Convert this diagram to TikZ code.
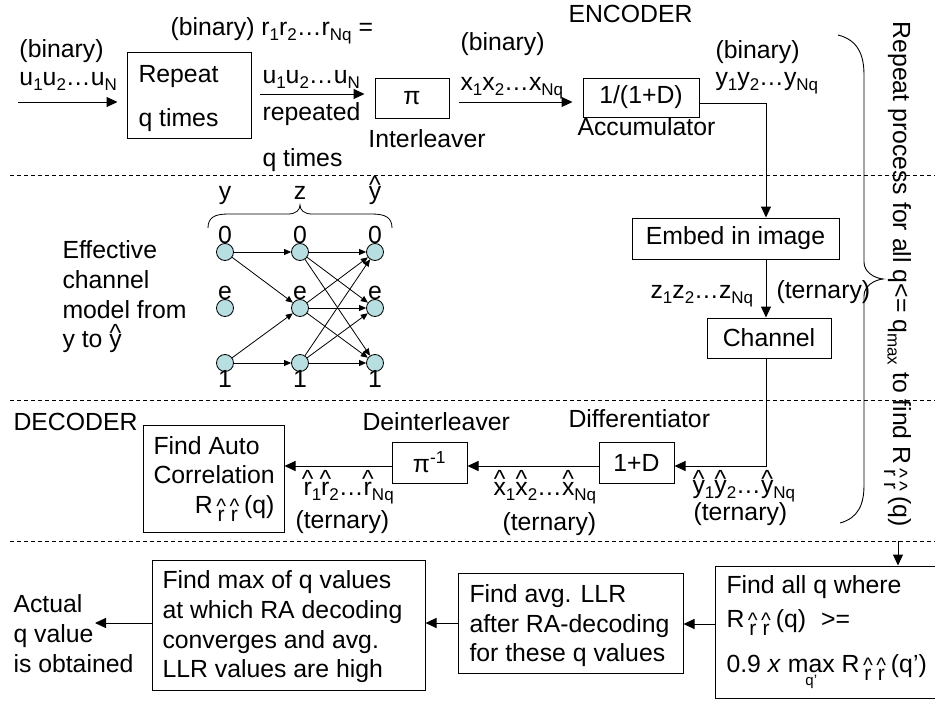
\documentclass[tikz,border=0pt]{standalone}
\usepackage{fontspec}
\setmainfont{Liberation Sans}
\usetikzlibrary{arrows.meta}
\definecolor{nodefill}{RGB}{183,222,224}
% subscript shorthand: smaller and dropped below the baseline
\newcommand\sbs[1]{\raisebox{-0.22em}{\fontsize{17}{17}\selectfont #1}}
% letter with a caret set above it
\newcommand\hatl[2][0.28em]{{\ooalign{#2\cr\hidewidth\raisebox{#1}{\textasciicircum}\hidewidth\cr}}}
% the pair of hatted r's written below R
\newcommand\rrsub{\raisebox{-0.36em}{\fontsize{21}{21}\selectfont\hatl[0.42em]{r}\hspace{0.3em}\hatl[0.42em]{r}}}
% max with q' underneath
\newcommand\maxq{{\ooalign{max\cr\hidewidth\raisebox{-0.55em}{\fontsize{15}{15}\selectfont q’}\hidewidth\cr}}}
\begin{document}
\begin{tikzpicture}[x=1pt,y=-1pt,
  font=\fontsize{24.8}{30}\selectfont,
  line width=1pt,
  >={Triangle[length=11pt,width=10pt]},
  box/.style={draw, rectangle, inner sep=0pt},
  txt/.style={inner sep=0pt, anchor=base west},
  ctxt/.style={inner sep=0pt, anchor=base},
  dline/.style={dash pattern=on 4pt off 3pt, line width=0.8pt},
  state/.style={circle, draw, fill=nodefill, minimum size=17pt, inner sep=0pt, line width=0.8pt},
  garr/.style={-{Triangle[length=7pt,width=6pt]}, line width=0.8pt}]
\useasboundingbox (0,0) rectangle (935,704);

% section separators
\draw[dline] (10,175) -- (935,175);
\draw[dline] (10,400) -- (935,400);
\draw[dline] (10,541) -- (935,541);

% ---------------- encoder ----------------
\node[txt] (encl) at (568,22) {ENCODER};
\node[txt] (inbin) at (19,57) {(binary)};
\node[txt] (inu) at (19,85) {u\sbs{1}u\sbs{2}\ldots u\sbs{N}};
\coordinate (inp) at (18,102);

\node[box, minimum width=124pt, minimum height=86pt] (rep) at (189,95) {};
\node[txt] (rep1) at (138,82) {Repeat};
\node[txt] (rep2) at (138,126) {q times};

\node[txt] (rtop) at (170,35) {(binary) r\sbs{1}r\sbs{2}\ldots r\sbs{Nq} =};
\node[txt] (ru) at (262,83) {u\sbs{1}u\sbs{2}\ldots u\sbs{N}};
\node[txt] (rrep) at (262,120) {repeated};
\node[txt] (rq) at (262,166) {q times};

\node[box, minimum width=74pt, minimum height=40pt] (pi) at (412,98) {π};
\node[ctxt] (intl) at (427,147) {Interleaver};

\node[txt] (xbin) at (460,50) {(binary)};
\node[txt] (xs) at (460,90) {x\sbs{1}x\sbs{2}\ldots x\sbs{Nq}};

\node[box, minimum width=116pt, minimum height=39pt] (acc) at (641,97.5) {1/(1+D)};
\node[txt] (accl) at (577,135) {Accumulator};

\node[txt] (ybin) at (715,58) {(binary)};
\node[txt] (ys) at (715,85) {y\sbs{1}y\sbs{2}\ldots y\sbs{Nq}};

\node[box, minimum width=207pt, minimum height=41pt] (embed) at (735.5,238.5) {Embed in image};
\node[box, minimum width=124pt, minimum height=40pt] (chan) at (769,338) {Channel};
\node[txt] (zs) at (650,298) {z\sbs{1}z\sbs{2}\ldots z\sbs{Nq}};
\node[txt] (zt) at (776,298) {(ternary)};

\coordinate (vx) at (766,0);
\draw[->, shorten >=9pt] (inp) -- (inp -| rep.west);
\draw[->, shorten <=8pt, shorten >=10pt] ([yshift=1pt]rep.east) -- ([yshift=1pt]rep.east -| pi.west);
\draw[->, shorten <=9pt, shorten >=10pt] ([yshift=-4pt]pi.east) -- ([yshift=-4pt]pi.east -| acc.west);
\draw[->] ([yshift=-5.5pt]acc.east) -| (vx |- embed.north);
\draw[->] (vx |- embed.south) -- (vx |- chan.north);

% ---------------- effective channel model ----------------
\node[txt] (ef1) at (62,258) {Effective};
\node[txt] (ef2) at (62,288) {channel};
\node[txt] (ef3) at (62,318) {model from};
\node[txt] (ef4) at (62,347) {y to \hatl[0.22em]{y}};

\node[ctxt] (hy) at (225,199) {y};
\node[ctxt] (hz) at (300,199) {z};
\node[ctxt] (hh) at (375,199) {\hatl[0.22em]{y}};
\draw[line width=0.8pt] (208,228) .. controls (208,218) and (214,214) .. (228,214) -- (288,214)
  .. controls (296,214) and (300,210) .. (300,205)
  .. controls (300,210) and (304,214) .. (312,214) -- (372,214)
  .. controls (386,214) and (392,218) .. (392,228);

\foreach \c/\x in {y/225, z/300, h/375} {
  \node[state] (\c0) at (\x,252) {};
  \node[state] (\c e) at (\x,308) {};
  \node[state] (\c1) at (\x,363) {};
  \node[ctxt] (\c l0) at (\x,243) {0};
  \node[ctxt] (\c le) at (\x,299) {e};
  \node[ctxt] (\c l1) at (\x,387) {1};
}
\draw[garr] (y0) -- (z0);
\draw[garr] (y0) -- (ze);
\draw[garr] (y1) -- (ze);
\draw[garr] (y1) -- (z1);
\foreach \a in {0,e,1} {
  \foreach \b in {0,e,1} {
    \draw[garr] (z\a) -- (h\b);
  }
}

% ---------------- repeat brace ----------------
\draw[line width=0.9pt] (838,35) .. controls (858,40) and (864,55) .. (864,75) -- (864,262)
  .. controls (864,272) and (874,278) .. (883,279)
  .. controls (874,280) and (864,286) .. (864,296) -- (864,485)
  .. controls (864,505) and (858,518) .. (840,523);
\node[rotate=-90, anchor=base, inner sep=0pt] (rpt) at (893,274)
  {Repeat process for all q<= q\sbs{max} to find R\hspace{0.2em}\rrsub\hspace{0.25em}(q)};

% ---------------- decoder ----------------
\node[txt] (decl) at (13,430) {DECODER};
\node[txt] (deil) at (362,430) {Deinterleaver};
\node[txt] (difl) at (568,427) {Differentiator};

\node[box, minimum width=75pt, minimum height=41pt] (diff) at (636.5,462.5) {1+D};
\node[box, minimum width=75pt, minimum height=41pt] (deint) at (429.5,462.5) {π\textsuperscript{-1}};
\node[box, minimum width=141pt, minimum height=107pt] (auto) at (213.5,478.5) {};
\node[txt] (au1) at (153,454) {Find Auto};
\node[txt] (au2) at (153,483) {Correlation};
\node[inner sep=0pt, anchor=base east] (au3) at (275,513) {R\hspace{0.2em}\rrsub\hspace{0.25em}(q)};

\node[txt] (rh) at (303,495) {\hatl[0.3em]{r}\sbs{1}\hatl[0.3em]{r}\sbs{2}\ldots\hatl[0.3em]{r}\sbs{Nq}};
\node[txt] (rt) at (295,528) {(ternary)};
\node[txt] (xh) at (493,495) {\hatl[0.3em]{x}\sbs{1}\hatl[0.3em]{x}\sbs{2}\ldots\hatl[0.3em]{x}\sbs{Nq}};
\node[txt] (xt) at (502,530) {(ternary)};
\node[txt] (yh) at (692,493) {\hatl[0.22em]{y}\sbs{1}\hatl[0.22em]{y}\sbs{2}\ldots\hatl[0.22em]{y}\sbs{Nq}};
\node[txt] (yt) at (693,520) {(ternary)};

\draw[->] (vx |- chan.south) |- ([yshift=-3.5pt]diff.east);
\draw[->] ([yshift=-3.5pt]diff.west) -- ([yshift=-3.5pt]diff.west -| deint.east);
\draw[->] ([yshift=-3.5pt]deint.west) -- ([yshift=-3.5pt]deint.west -| auto.east);

% ---------------- final search ----------------
\node[box, minimum width=230pt, minimum height=132pt] (findall) at (830,632) {};
\node[txt] (fa1) at (726,593) {Find all q where};
\node[txt] (fa2) at (726,627) {R\hspace{0.2em}\rrsub\hspace{0.25em}(q)\hspace{0.6em}>=};
\node[txt] (fa3) at (726,672) {0.9 \textit{x} \maxq\ R\hspace{0.2em}\rrsub\hspace{0.25em}(q’)};

\node[box, minimum width=225pt, minimum height=100pt] (findavg) at (570.5,623) {};
\node[txt] (fv1) at (469,602) {Find avg. LLR};
\node[txt] (fv2) at (469,632) {after RA-decoding};
\node[txt] (fv3) at (469,661) {for these q values};

\node[box, minimum width=273pt, minimum height=130pt] (findmax) at (288.5,625) {};
\node[txt] (fm1) at (162,588) {Find max of q values};
\node[txt] (fm2) at (162,618) {at which RA decoding};
\node[txt] (fm3) at (162,648) {converges and avg.};
\node[txt] (fm4) at (162,677) {LLR values are high};

\node[txt] (ac1) at (13,612) {Actual};
\node[txt] (ac2) at (13,642) {q value};
\node[txt] (ac3) at (13,672) {is obtained};

\coordinate (dn) at (898,541);
\coordinate (aend) at (95,623);
\draw[->] (dn) -- (dn |- findall.north);
\draw[->] ([yshift=8pt]findall.west) -- ([yshift=8pt]findall.west -| findavg.east);
\draw[->] (findavg.west) -- (findavg.west -| findmax.east);
\draw[->] (findmax.west |- aend) -- (aend);
\end{tikzpicture}
\end{document}
